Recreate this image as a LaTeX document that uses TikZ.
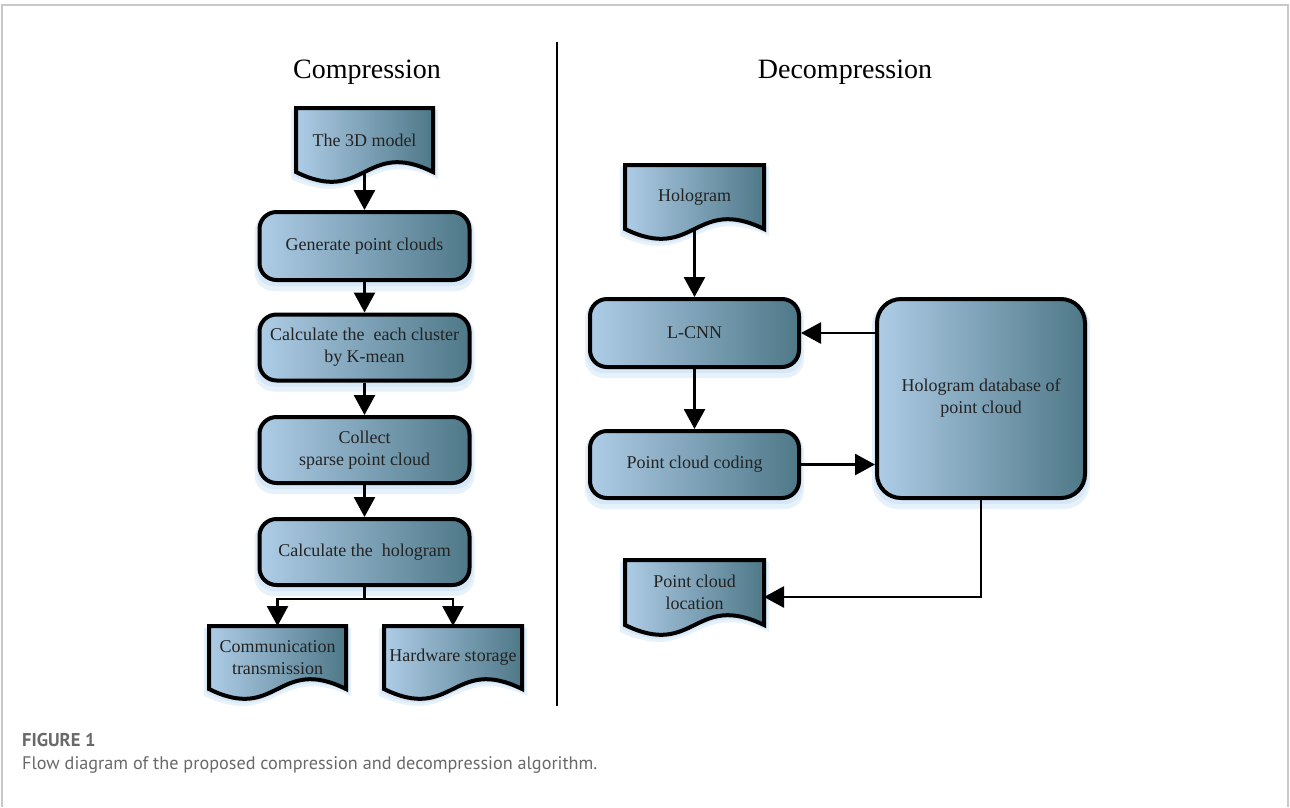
\documentclass[tikz,border=0pt]{standalone}
\usepackage{fontspec}
\setmainfont{Liberation Serif}
\newfontfamily\capfamily{PT Sans}
\usetikzlibrary{arrows.meta,calc,backgrounds}
\definecolor{boxL}{RGB}{174,204,230}
\definecolor{boxR}{RGB}{78,120,136}
\definecolor{glowc}{RGB}{185,215,242}
\definecolor{txt}{RGB}{35,35,35}
\definecolor{framec}{RGB}{200,200,200}
\definecolor{capc}{RGB}{105,105,105}
\newcommand\myboxfont{\fontsize{18pt}{22pt}\selectfont}
\newcommand\mytitlefont{\fontsize{28pt}{32pt}\selectfont}
\newcommand\mycapbold{\capfamily\bfseries\fontsize{18.5pt}{22pt}\selectfont}
\newcommand\mycapreg{\capfamily\fontsize{18.2pt}{22pt}\selectfont}
% #1 style, #2 node, #3 dy, #4 grow
\newcommand\docshape[4]{%
  \path[#1] ($(#2.north west)+(-#4,#3-#4)$) -- ($(#2.north east)+(#4,#3-#4)$)
    -- ($(#2.south east)+(#4,#3)$)
    .. controls ($(#2.south)+(0,#3-34)$) and ($(#2.south)+(0,#3+34)$) ..
    ($(#2.south west)+(-#4,#3)$) -- cycle;}
% #1 node, #2 dy, #3 grow, #4 radius
\newcommand\boxglow[4]{%
  \fill[glowst, rounded corners=#4] ($(#1.north west)+(-#3,#2-#3)$) rectangle ($(#1.south east)+(#3,#2+#3)$);}
\begin{document}
\begin{tikzpicture}[x=1pt,y=-1pt,
  proc/.style={draw=black, line width=4pt, rounded corners=17pt, left color=boxL, right color=boxR,
    text=txt, font=\myboxfont, align=center, inner sep=0pt, minimum width=210pt},
  docn/.style={text=txt, font=\myboxfont, align=center, inner sep=0pt, outer sep=0pt},
  docst/.style={draw=black, line width=4pt, left color=boxL, right color=boxR},
  glowst/.style={fill=glowc, opacity=0.35},
  arr/.style={draw=black, line width=2.8pt, -{Triangle[length=20pt,width=21pt]}},
  conn/.style={draw=black, line width=2.8pt},
  title/.style={font=\mytitlefont, text=black, inner sep=0pt},
  capt/.style={anchor=west, inner sep=0pt, text=capc}
]
\useasboundingbox (0,0) rectangle (1290,807);

% frame and divider
\draw[framec, line width=1.5pt] (2,807) -- (2,5) -- (1288,5) -- (1288,807);
\draw[line width=2.5pt] (557,42) -- (557,706);

% titles
\node[title] (tc) at (367,72) {Compression};
\node[title] (td) at (845,72) {Decompression};

% left column
\node[docn, minimum width=137pt, minimum height=64pt] (d3) at (364.5,140) {The 3D model};
\node[proc, minimum height=68pt] (gen) at (364.5,246) {Generate point clouds};
\node[proc, minimum height=66pt] (calc) at (364.5,347.5) {Calculate the \ each cluster\\by K-mean};
\node[proc, minimum height=66pt] (coll) at (364.5,450) {Collect\\sparse point cloud};
\node[proc, minimum height=66pt] (holo) at (364.5,552) {Calculate the \ hologram};
\node[docn, minimum width=137pt, minimum height=63pt] (comm) at (277.5,657.5) {Communication\\transmission};
\node[docn, minimum width=138pt, minimum height=63pt] (hw) at (453,657.5) {Hardware storage};

% right column
\node[docn, minimum width=139pt, minimum height=64pt] (hol) at (694.5,197) {Hologram};
\node[proc, minimum width=209pt, minimum height=68pt] (lcnn) at (694.5,333) {L-CNN};
\node[proc, minimum width=209pt, minimum height=67pt] (code) at (694.5,464.5) {Point cloud coding};
\node[proc, rounded corners=24pt, minimum width=208pt, minimum height=199pt] (db) at (981,398.5) {Hologram database of\\point cloud};
\node[docn, minimum width=139pt, minimum height=65pt] (loc) at (694.5,592.5) {Point cloud\\location};

% caption
\node[capt, font=\mycapbold] (fig) at (22,740) {FIGURE 1};
\node[capt, font=\mycapreg] (cap) at (22,765) {Flow diagram of the proposed compression and decompression algorithm.};

% connectors
\draw[arr] (d3.south) -- (gen.north);
\draw[arr] (gen.south) -- (calc.north);
\draw[arr] (calc.south) -- (coll.north);
\draw[arr] (coll.south) -- (holo.north);
\coordinate (br) at ($(holo.south)+(0,12)$);
\draw[conn] (holo.south) -- (br);
\draw[arr] (br) -| (comm.north);
\draw[arr] (br) -| (hw.north);
\draw[arr] (hol.south) -- (lcnn.north);
\draw[arr] (lcnn.south) -- (code.north);
\draw[arr] (db.west |- lcnn.east) -- (lcnn.east);
\draw[arr] (code.east) -- (code.east -| db.west);
\draw[arr] (db.south) |- ($(loc.east)+(0,4.5)$);

\begin{pgfonlayer}{background}
\fill[white] (0,0) rectangle (1290,807);
\foreach \n in {gen,calc,coll,holo,lcnn,code}{
  \boxglow{\n}{3}{1}{17pt}
  \boxglow{\n}{6}{3}{19pt}
}
\boxglow{db}{3}{1}{24pt}
\boxglow{db}{6}{3}{26pt}
\foreach \n in {d3,comm,hw,hol,loc}{
  \docshape{glowst}{\n}{4}{3}
  \docshape{glowst}{\n}{7}{5}
}
\foreach \n in {d3,comm,hw,hol,loc}{
  \docshape{docst}{\n}{0}{0}
}
\end{pgfonlayer}
\end{tikzpicture}
\end{document}
